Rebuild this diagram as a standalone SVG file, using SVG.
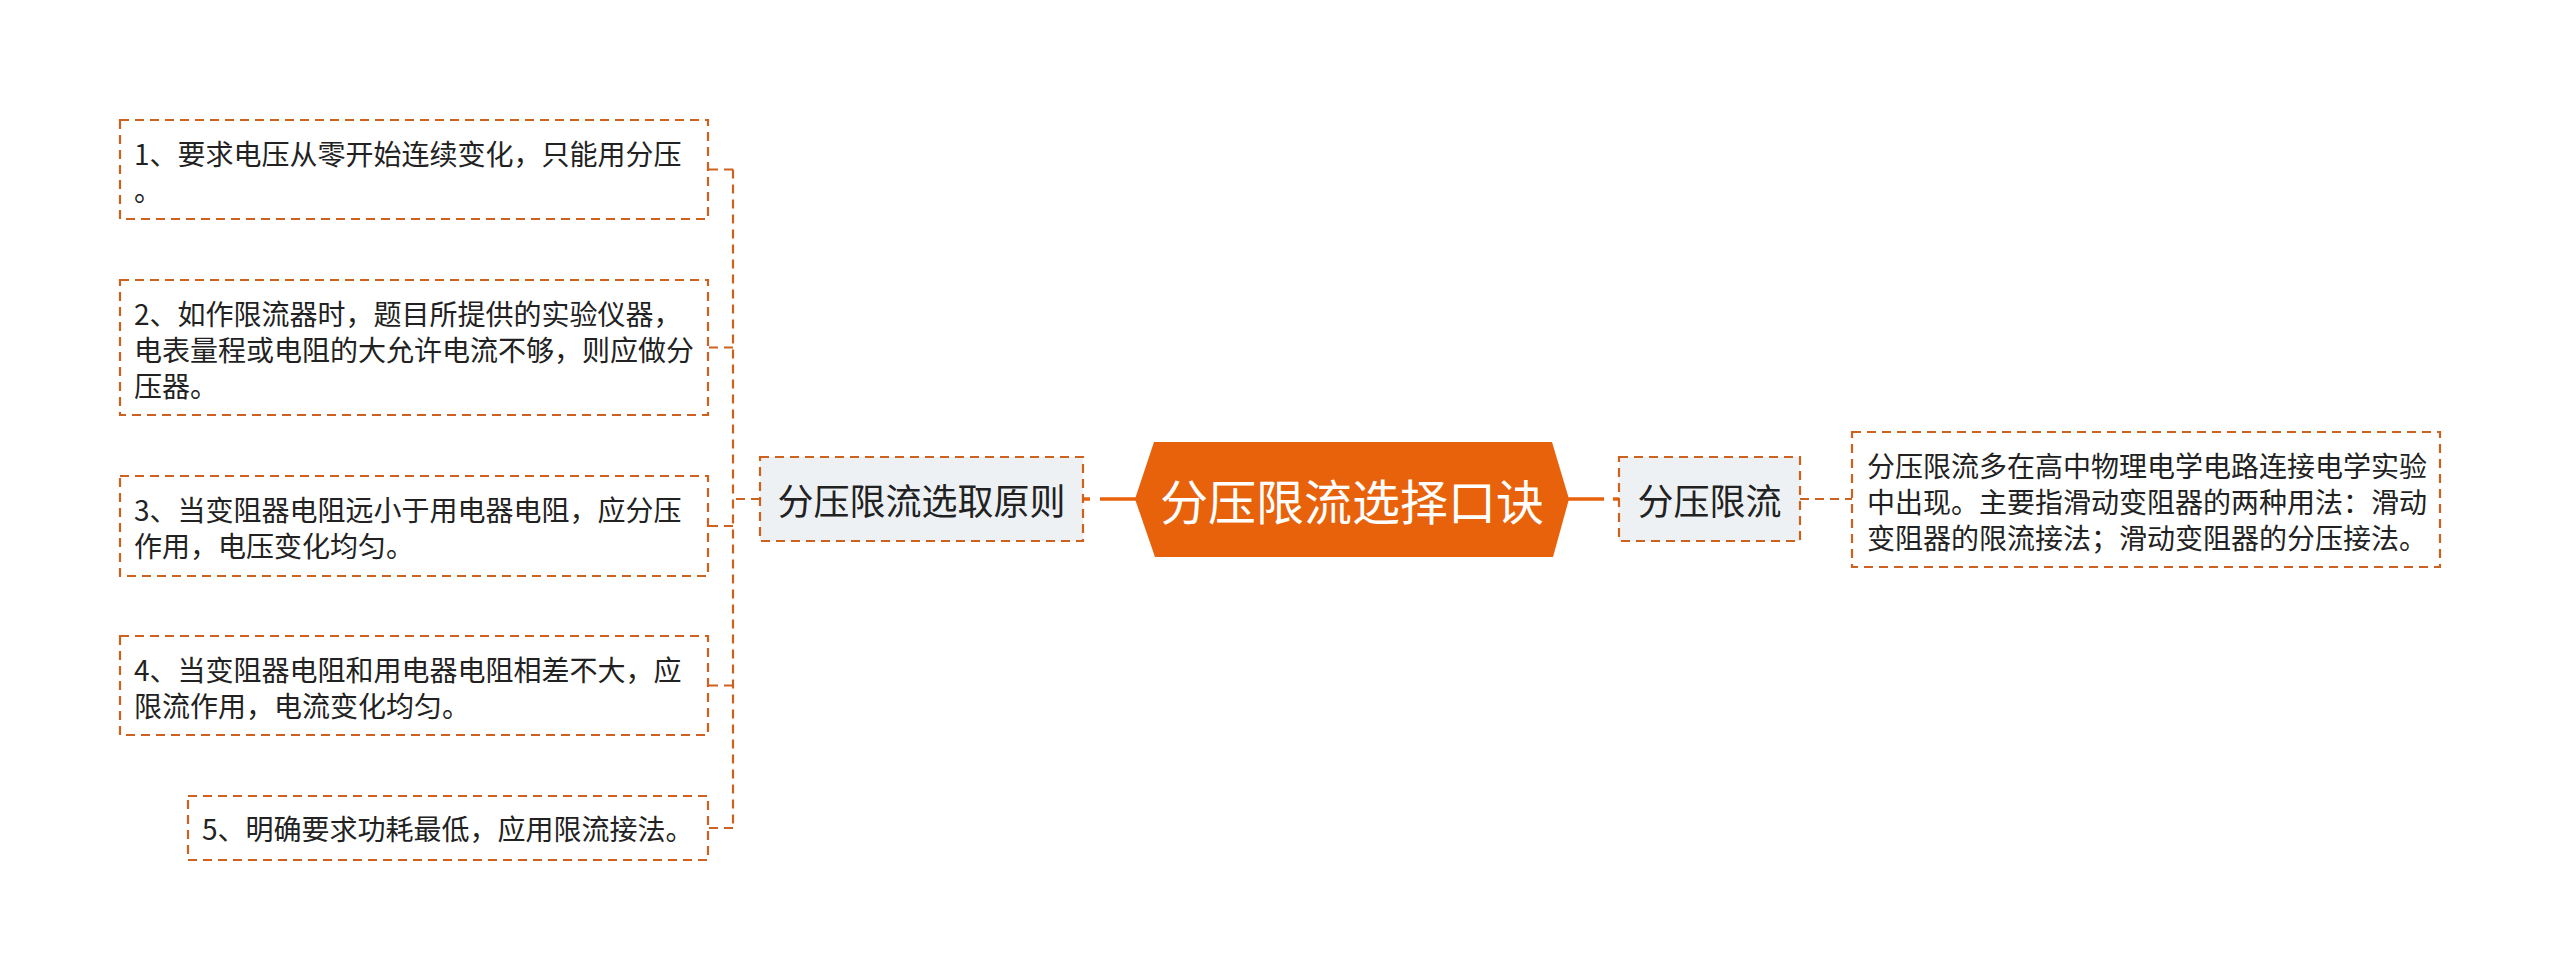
<svg xmlns="http://www.w3.org/2000/svg" width="2560" height="980" viewBox="0 0 2560 980">
<style>
text{font-family:"Noto Sans CJK SC","Noto Sans",sans-serif;dominant-baseline:central;}
.box{fill:#ffffff;stroke:#CD611E;stroke-width:2.2;stroke-dasharray:9 6;}
.sub{fill:#EEF1F4;stroke:#CD611E;stroke-width:2.2;stroke-dasharray:9 6;}
.t28{font-size:28px;fill:#222222;}
.t36{font-size:36px;fill:#222222;text-anchor:middle;}
.dash{fill:none;stroke:#CD611E;stroke-width:2.2;stroke-dasharray:9 6;}
.solid{fill:none;stroke:#E8620C;stroke-width:3.5;}
</style>
<rect width="2560" height="980" fill="#ffffff"/>
<g id="connectors">
<line class="solid" x1="1100" y1="499" x2="1137" y2="499"/>
<line class="solid" x1="1083" y1="499" x2="1090" y2="499"/>
<line class="solid" x1="1567" y1="499" x2="1604" y2="499"/>
<line class="solid" x1="1613" y1="499" x2="1619" y2="499"/>
<line class="dash" x1="1800" y1="499" x2="1852" y2="499"/>
<line class="dash" x1="760" y1="499" x2="733" y2="499"/>
<line class="dash" x1="733" y1="169.5" x2="733" y2="828"/>
<line class="dash" x1="733" y1="169.5" x2="708" y2="169.5"/>
<line class="dash" x1="733" y1="347.5" x2="708" y2="347.5"/>
<line class="dash" x1="733" y1="526" x2="708" y2="526"/>
<line class="dash" x1="733" y1="685.5" x2="708" y2="685.5"/>
<line class="dash" x1="733" y1="828" x2="708" y2="828"/>
</g>
<g id="root">
<polygon points="1135,499 1154,442 1552,442 1569,499 1553,557 1155,557" fill="#E8620C"/>
<text x="1352" y="499" style="font-size:48px;fill:#ffffff;text-anchor:middle;">分压限流选择口诀</text>
</g>
<g id="node-left">
<rect class="sub" x="760" y="457" width="323" height="84"/>
<text class="t36" x="921.5" y="499">分压限流选取原则</text>
</g>
<g id="node-right">
<rect class="sub" x="1619" y="457" width="181" height="84"/>
<text class="t36" x="1709.5" y="499">分压限流</text>
</g>
<g id="detail">
<rect class="box" x="1852" y="432" width="588" height="135"/>
<text class="t28" x="1867" y="465">分压限流多在高中物理电学电路连接电学实验</text>
<text class="t28" x="1867" y="501">中出现。主要指滑动变阻器的两种用法：滑动</text>
<text class="t28" x="1867" y="537">变阻器的限流接法；滑动变阻器的分压接法。</text>
</g>
<g id="item1">
<rect class="box" x="120" y="120" width="588" height="99"/>
<text class="t28" x="134" y="153">1、要求电压从零开始连续变化，只能用分压</text>
<text class="t28" x="134" y="189">。</text>
</g>
<g id="item2">
<rect class="box" x="120" y="280" width="588" height="135"/>
<text class="t28" x="134" y="313">2、如作限流器时，题目所提供的实验仪器，</text>
<text class="t28" x="134" y="349">电表量程或电阻的大允许电流不够，则应做分</text>
<text class="t28" x="134" y="385">压器。</text>
</g>
<g id="item3">
<rect class="box" x="120" y="476" width="588" height="100"/>
<text class="t28" x="134" y="509">3、当变阻器电阻远小于用电器电阻，应分压</text>
<text class="t28" x="134" y="545">作用，电压变化均匀。</text>
</g>
<g id="item4">
<rect class="box" x="120" y="636" width="588" height="99"/>
<text class="t28" x="134" y="669">4、当变阻器电阻和用电器电阻相差不大，应</text>
<text class="t28" x="134" y="705">限流作用，电流变化均匀。</text>
</g>
<g id="item5">
<rect class="box" x="188" y="796" width="520" height="64"/>
<text class="t28" x="202" y="828">5、明确要求功耗最低，应用限流接法。</text>
</g>
</svg>
